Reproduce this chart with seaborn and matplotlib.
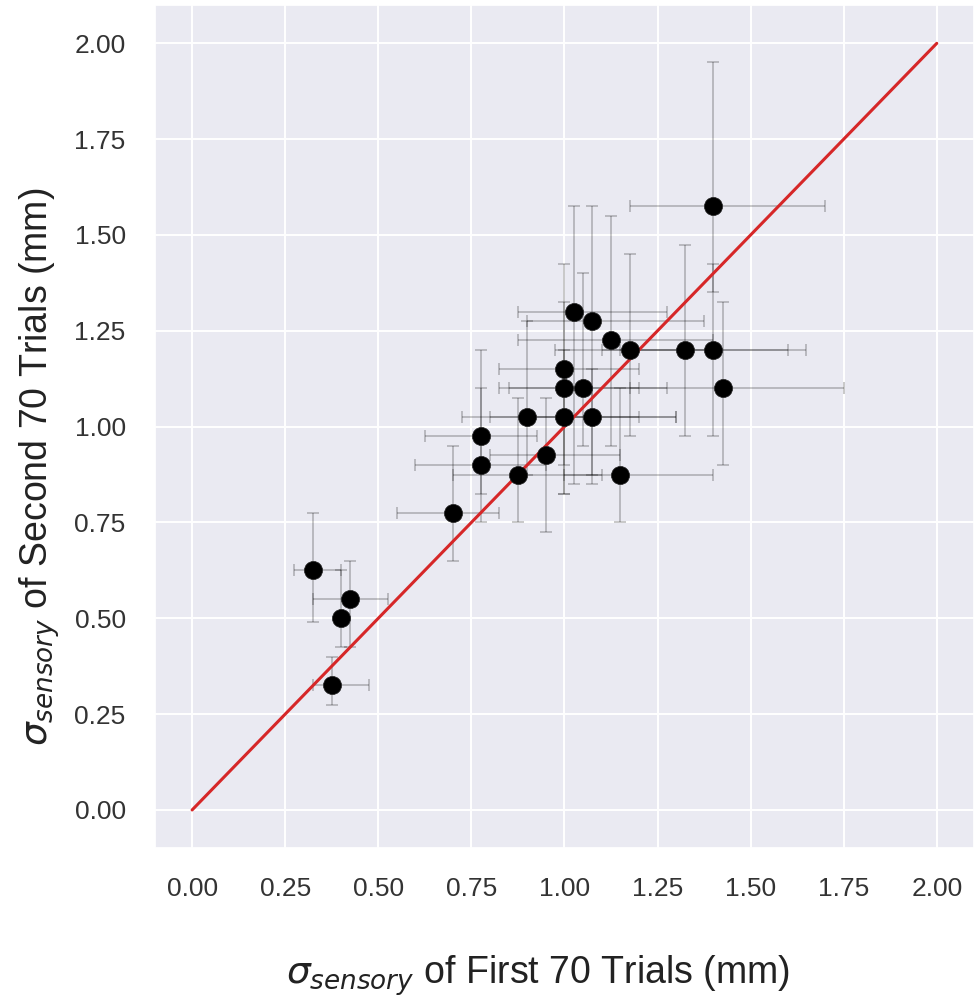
import numpy as np
import pandas as pd
import matplotlib
matplotlib.use("Agg")
import matplotlib.pyplot as plt
import seaborn as sns

# sigma_sensory estimates, first vs second 70 trials (mm), with interval bounds
first = [1.40, 1.025, 1.075, 1.125, 1.175, 1.325, 1.40, 1.00, 1.00, 1.05, 1.425, 0.90,
         1.00, 1.075, 0.775, 0.775, 0.95, 0.875, 1.15, 0.70, 0.325, 0.425, 0.40, 0.375]
second = [1.575, 1.30, 1.275, 1.225, 1.20, 1.20, 1.20, 1.15, 1.10, 1.10, 1.10, 1.025,
          1.025, 1.025, 0.975, 0.90, 0.925, 0.875, 0.875, 0.775, 0.625, 0.55, 0.50, 0.325]
first_lo = [1.175, 0.875, 0.90, 0.875, 0.975, 1.10, 1.15, 0.825, 0.825, 0.85, 1.175, 0.725,
            0.80, 0.90, 0.625, 0.60, 0.80, 0.70, 1.00, 0.55, 0.275, 0.325, 0.40, 0.325]
first_hi = [1.70, 1.275, 1.375, 1.40, 1.40, 1.60, 1.65, 1.20, 1.20, 1.275, 1.75, 1.20,
            1.30, 1.30, 0.925, 0.95, 1.15, 1.10, 1.40, 0.825, 0.40, 0.525, 0.40, 0.475]
second_lo = [1.35, 0.85, 0.875, 0.95, 0.975, 0.975, 0.975, 0.90, 0.825, 0.95, 0.90, 0.875,
             0.825, 0.85, 0.825, 0.75, 0.725, 0.75, 0.75, 0.65, 0.49, 0.425, 0.425, 0.275]
second_hi = [1.95, 1.575, 1.575, 1.55, 1.45, 1.475, 1.425, 1.425, 1.325, 1.40, 1.325, 1.275,
             1.20, 1.15, 1.20, 1.10, 1.075, 1.075, 1.10, 0.95, 0.775, 0.65, 0.625, 0.40]
diag = [0.0, 2.0]
ticks = [0.00, 0.25, 0.50, 0.75, 1.00, 1.25, 1.50, 1.75, 2.00]

df = pd.DataFrame({"first": first, "second": second})
xerr = [np.array(first) - np.array(first_lo), np.array(first_hi) - np.array(first)]
yerr = [np.array(second) - np.array(second_lo), np.array(second_hi) - np.array(second)]

sns.set_theme(style="darkgrid")
plt.rcParams["font.family"] = ["Liberation Sans", "DejaVu Sans"]

fig, ax = plt.subplots(figsize=(9.74, 9.98), dpi=100)
fig.subplots_adjust(left=0.159, right=1.0, top=0.995, bottom=0.150)

ax.errorbar(first, second, xerr=xerr, yerr=yerr, fmt="none", ecolor="black",
            alpha=0.25, elinewidth=1.2, capsize=4, capthick=1.2, zorder=2)
ax.plot(diag, diag, color="#d62728", linewidth=2.2, zorder=3)
sns.scatterplot(data=df, x="first", y="second", color="black", s=170,
                edgecolor="#222222", linewidth=0.5, ax=ax, zorder=4)

ax.set_xlim(-0.1, 2.1)
ax.set_ylim(-0.1, 2.1)
ax.set_xticks(ticks)
ax.set_yticks(ticks)
ax.set_xticklabels([f"{t:.2f}" for t in ticks])
ax.set_yticklabels([f"{t:.2f}" for t in ticks])
ax.tick_params(axis="both", labelsize=19, pad=15, colors="#333333")
ax.grid(linewidth=1.4, color="white")

ax.set_xlabel(r"$\sigma_{sensory}$ of First 70 Trials (mm)", fontsize=27,
              color="#222222")
ax.set_ylabel(r"$\sigma_{sensory}$ of Second 70 Trials (mm)", fontsize=27,
              color="#222222")
ax.xaxis.set_label_coords(0.468, -0.125)
ax.yaxis.set_label_coords(-0.113, 0.453)

fig.savefig("out.png", dpi=100)
